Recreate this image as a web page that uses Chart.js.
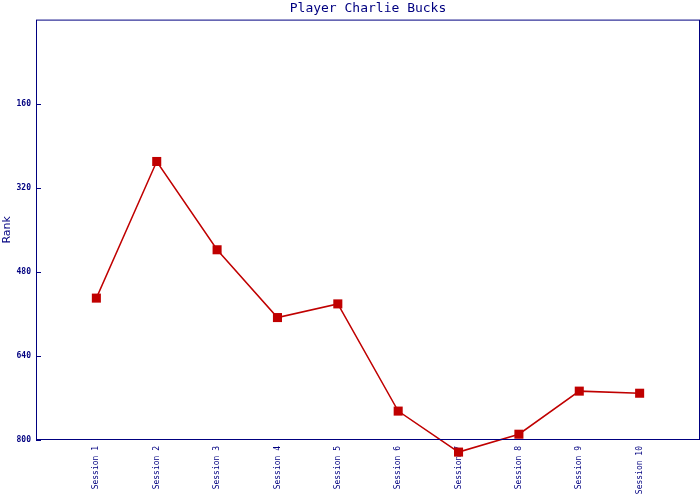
<!DOCTYPE html>
<html>
<head>
<meta charset="utf-8">
<script src="https://cdn.jsdelivr.net/npm/chart.js@4"></script>
<style>
  html, body { margin: 0; padding: 0; background: #fff; }
  #wrap { width: 700px; height: 500px; }
</style>
</head>
<body>
<div id="wrap"><canvas id="grafico"></canvas></div>
<script>
const sessioni = ['Session 1', 'Session 2', 'Session 3', 'Session 4', 'Session 5',
                  'Session 6', 'Session 7', 'Session 8', 'Session 9', 'Session 10'];
const rank = [530, 270, 438, 567, 541, 745, 823, 789, 707, 711];
const yTicks = [160, 320, 480, 640, 800];

const navy = '#000080';
const rosso = '#c00000';

// cornice del grafico + tacche verso l'interno
const cornice = {
    id: 'cornice',
    beforeDatasetsDraw(chart) {
        // i punti fuori dall'area (Session 7) vanno disegnati comunque
        chart._areaVera = chart.chartArea;
        chart.chartArea = { ...chart.chartArea, bottom: chart.chartArea.bottom + 40 };
    },
    afterDatasetsDraw(chart) {
        chart.chartArea = chart._areaVera;
    },
    afterDraw(chart) {
        const { ctx, chartArea: a, scales } = chart;
        ctx.save();
        ctx.strokeStyle = navy;
        ctx.lineWidth = 1;
        ctx.strokeRect(a.left + 0.5, a.top + 0.5, a.right - a.left - 1, a.bottom - a.top - 1);
        ctx.beginPath();
        yTicks.forEach(v => {
            const y = Math.round(scales.y.getPixelForValue(v)) + 0.5;
            ctx.moveTo(a.left, y);
            ctx.lineTo(a.left + 5, y);
        });
        ctx.stroke();
        ctx.restore();
    }
};

new Chart(document.getElementById('grafico'), {
    type: 'line',
    data: {
        datasets: [{
            data: rank.map((v, i) => ({ x: i + 1, y: v })),
            borderColor: rosso,
            backgroundColor: rosso,
            borderWidth: 1.5,
            pointStyle: 'rect',
            pointRadius: 6.4,
            pointHoverRadius: 6.4,
            pointBorderWidth: 0,
            tension: 0,
            clip: false
        }]
    },
    options: {
        responsive: true,
        maintainAspectRatio: false,
        animation: false,
        layout: { autoPadding: false, padding: 0 },
        plugins: {
            legend: { display: false },
            tooltip: { enabled: false },
            title: {
                display: true,
                fullSize: false,
                text: 'Player Charlie Bucks',
                color: navy,
                font: { family: 'DejaVu Sans Mono', size: 13, weight: 'normal' },
                padding: { top: 1, bottom: 3 }
            }
        },
        scales: {
            x: {
                type: 'linear',
                min: 0,
                max: 11,
                grid: { display: false, drawTicks: false },
                border: { display: false },
                ticks: {
                    stepSize: 1,
                    autoSkip: false,
                    maxRotation: 90,
                    minRotation: 90,
                    padding: 6,
                    color: navy,
                    font: { family: 'DejaVu Sans Mono', size: 8 },
                    callback: v => sessioni[v - 1] || ''
                },
                afterFit(scale) {
                    scale.height = 60;
                    scale.paddingLeft = 0;
                    scale.paddingRight = 0;
                }
            },
            y: {
                reverse: true,
                min: 0,
                max: 800,
                grid: { display: false, drawTicks: false },
                border: { display: false },
                ticks: {
                    stepSize: 160,
                    padding: 5,
                    color: navy,
                    font: { family: 'DejaVu Sans Mono', size: 8, weight: 'bold' },
                    callback: v => (v === 0 ? '' : v)
                },
                title: {
                    display: true,
                    text: 'Rank',
                    color: navy,
                    font: { family: 'DejaVu Sans', size: 11 },
                    padding: { top: 1, bottom: 0 }
                },
                afterFit(scale) {
                    scale.width = 36;
                    scale.paddingTop = 0;
                    scale.paddingBottom = 0;
                }
            }
        }
    },
    plugins: [cornice]
});
</script>
</body>
</html>
